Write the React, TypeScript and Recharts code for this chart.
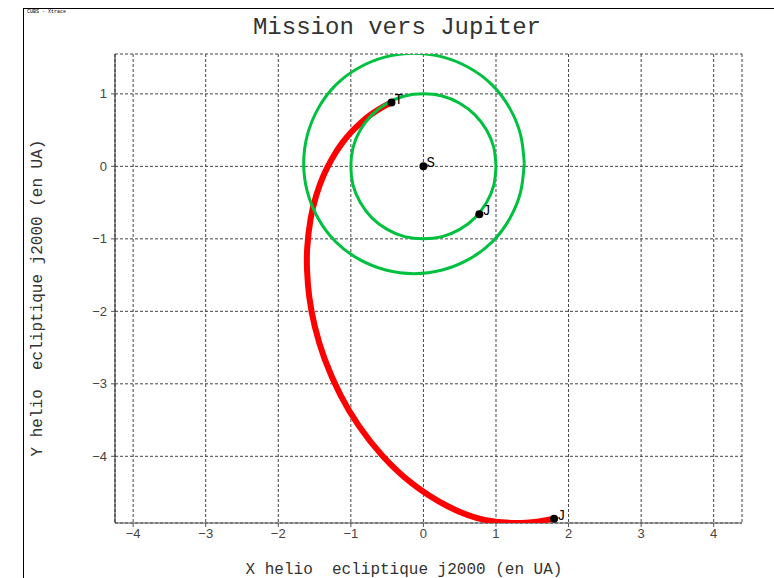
import * as React from 'react';
import { ScatterChart, Scatter, XAxis, YAxis, CartesianGrid } from 'recharts';

// axis ticks (UA)
const xTicks = [-4, -3, -2, -1, 0, 1, 2, 3, 4];
const yTicks = [-4, -3, -2, -1, 0, 1];

// transfer orbit Terre -> Jupiter
const trajectory = [
  { x: -0.44, y: 0.88 }, { x: -0.57, y: 0.814 }, { x: -0.718, y: 0.718 }, { x: -0.862, y: 0.603 },
  { x: -1.0, y: 0.466 }, { x: -1.133, y: 0.303 }, { x: -1.258, y: 0.11 }, { x: -1.374, y: -0.12 },
  { x: -1.475, y: -0.395 }, { x: -1.555, y: -0.725 }, { x: -1.601, y: -1.121 }, { x: -1.603, y: -1.444 },
  { x: -1.572, y: -1.809 }, { x: -1.495, y: -2.217 }, { x: -1.358, y: -2.666 }, { x: -1.146, y: -3.149 },
  { x: -0.892, y: -3.577 }, { x: -0.562, y: -3.996 }, { x: -0.153, y: -4.378 }, { x: 0.328, y: -4.686 },
  { x: 0.86, y: -4.88 }, { x: 1.413, y: -4.915 }, { x: 1.8, y: -4.86 },
];

// inner orbit (Terre)
const earthOrbit = [
  { x: 1, y: 0 }, { x: 0.97, y: 0.26 }, { x: 0.87, y: 0.5 }, { x: 0.71, y: 0.71 },
  { x: 0.5, y: 0.87 }, { x: 0.26, y: 0.97 }, { x: 0, y: 1 }, { x: -0.26, y: 0.97 },
  { x: -0.5, y: 0.87 }, { x: -0.71, y: 0.71 }, { x: -0.87, y: 0.5 }, { x: -0.97, y: 0.26 },
  { x: -1, y: 0 }, { x: -0.97, y: -0.26 }, { x: -0.87, y: -0.5 }, { x: -0.71, y: -0.71 },
  { x: -0.5, y: -0.87 }, { x: -0.26, y: -0.97 }, { x: 0, y: -1 }, { x: 0.26, y: -0.97 },
  { x: 0.5, y: -0.87 }, { x: 0.71, y: -0.71 }, { x: 0.87, y: -0.5 }, { x: 0.97, y: -0.26 },
  { x: 1, y: 0 },
];

// outer orbit (Mars)
const marsOrbit = [
  { x: 1.39, y: 0.04 }, { x: 1.34, y: 0.43 }, { x: 1.19, y: 0.8 }, { x: 0.95, y: 1.12 },
  { x: 0.63, y: 1.36 }, { x: 0.26, y: 1.51 }, { x: -0.13, y: 1.56 }, { x: -0.52, y: 1.51 },
  { x: -0.89, y: 1.36 }, { x: -1.21, y: 1.12 }, { x: -1.45, y: 0.8 }, { x: -1.6, y: 0.43 },
  { x: -1.65, y: 0.04 }, { x: -1.6, y: -0.35 }, { x: -1.45, y: -0.72 }, { x: -1.21, y: -1.04 },
  { x: -0.89, y: -1.28 }, { x: -0.52, y: -1.43 }, { x: -0.13, y: -1.48 }, { x: 0.26, y: -1.43 },
  { x: 0.63, y: -1.28 }, { x: 0.95, y: -1.04 }, { x: 1.19, y: -0.72 }, { x: 1.34, y: -0.35 },
  { x: 1.39, y: 0.04 },
];

const bodies = [
  { x: 0, y: 0, label: 'S' },
  { x: -0.44, y: 0.88, label: 'T' },
  { x: 0.77, y: -0.66, label: 'J' },
  { x: 1.8, y: -4.86, label: 'J' },
];

const mono = '"Liberation Mono", "DejaVu Sans Mono", monospace';
const fmt = (v: number) => String(v).replace('-', '\u2212');
const noDot = () => <g />;

const BodyDot = (props: any) => {
  const { cx, cy, payload } = props;
  return (
    <g>
      <circle cx={cx} cy={cy} r={4} fill="#000" />
      <text x={cx + 3} y={cy + 1} fontFamily={mono} fontSize={14} fill="#000">{payload.label}</text>
    </g>
  );
};

export default function App() {
  const tickStyle = { fontFamily: '"Liberation Sans", Arial, sans-serif', fontSize: 13, fill: '#444' };
  return (
    <div style={{ position: 'absolute', left: 0, top: 0, width: 774, height: 578, background: '#fff' }}>
      <div style={{ position: 'absolute', left: 23, top: 8, right: 0, bottom: 0,
                    borderLeft: '1px solid #000', borderTop: '1px solid #000' }} />
      <div style={{ position: 'absolute', left: 27, top: 9, fontFamily: mono, fontSize: 5, color: '#000' }}>
        CUBS - Xtrace
      </div>
      <div style={{ position: 'absolute', left: 0, top: 14, width: 794, textAlign: 'center',
                    fontFamily: mono, fontSize: 24, lineHeight: '28px', color: '#333' }}>
        Mission vers Jupiter
      </div>
      <div style={{ position: 'absolute', left: 0, top: 561, width: 808, textAlign: 'center',
                    fontFamily: mono, fontSize: 16, lineHeight: '18px', color: '#333', whiteSpace: 'pre' }}>
        {'X helio  ecliptique j2000 (en UA)'}
      </div>
      <div style={{ position: 'absolute', left: 38, top: 298, width: 0, height: 0 }}>
        <div style={{ position: 'absolute', left: -200, top: -9, width: 400, textAlign: 'center',
                      transform: 'rotate(-90deg)', fontFamily: mono, fontSize: 16, lineHeight: '18px',
                      color: '#333', whiteSpace: 'pre' }}>
          {'Y helio  ecliptique j2000 (en UA)'}
        </div>
      </div>
      <div style={{ position: 'absolute', left: 0, top: 0 }}>
        <ScatterChart width={774} height={578} margin={{ top: 54, right: 32, bottom: 25, left: 75 }}>
          <CartesianGrid stroke="#444" strokeDasharray="3 2" />
          <XAxis type="number" dataKey="x" domain={[-4.25, 4.39]} ticks={xTicks} allowDataOverflow
                 height={30} tickSize={4} tickFormatter={fmt} tick={tickStyle}
                 axisLine={{ stroke: '#555' }} tickLine={{ stroke: '#555' }} />
          <XAxis xAxisId="top" orientation="top" type="number" dataKey="x" domain={[-4.25, 4.39]}
                 ticks={xTicks} allowDataOverflow height={0} tickSize={4} tick={false}
                 axisLine={{ stroke: '#777' }} tickLine={{ stroke: '#555' }} />
          <YAxis type="number" dataKey="y" domain={[-4.92, 1.55]} ticks={yTicks} allowDataOverflow
                 width={40} tickSize={4} tickMargin={4} tickFormatter={fmt} tick={tickStyle}
                 axisLine={{ stroke: '#222' }} tickLine={{ stroke: '#555' }} />
          <YAxis yAxisId="right" orientation="right" type="number" dataKey="y" domain={[-4.92, 1.55]}
                 ticks={yTicks} allowDataOverflow width={0} tickSize={4} tick={false}
                 axisLine={{ stroke: '#222' }} tickLine={{ stroke: '#555' }} />
          <Scatter data={trajectory} line={{ stroke: '#ff0000', strokeWidth: 6 }} lineJointType="natural"
                   shape={noDot} isAnimationActive={false} />
          <Scatter data={earthOrbit} line={{ stroke: '#00c040', strokeWidth: 3 }} lineJointType="natural"
                   shape={noDot} isAnimationActive={false} />
          <Scatter data={marsOrbit} line={{ stroke: '#00c040', strokeWidth: 3 }} lineJointType="natural"
                   shape={noDot} isAnimationActive={false} />
          <Scatter data={bodies} shape={BodyDot} isAnimationActive={false} />
        </ScatterChart>
      </div>
    </div>
  );
}
